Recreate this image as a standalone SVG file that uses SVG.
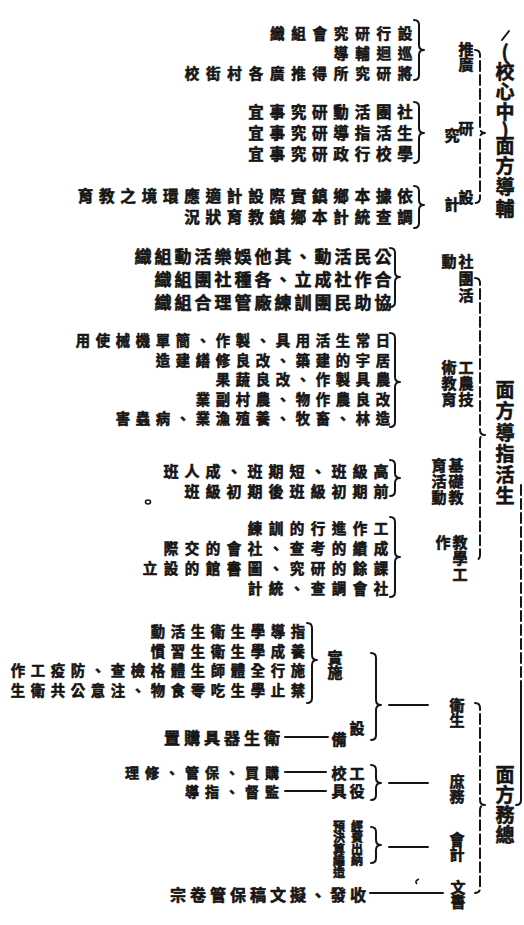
<svg xmlns="http://www.w3.org/2000/svg" width="524" height="925" viewBox="0 0 524 925">
<style>
text{font-family:"Noto Sans CJK TC","Noto Sans CJK SC",sans-serif;font-weight:700;fill:#151515;stroke:#151515;stroke-width:0.6;dominant-baseline:central}
.h{font-size:19px;text-anchor:middle}
.l{font-size:15px;text-anchor:middle}
.m{font-size:12px;text-anchor:middle}
.s1a{font-size:14.5px;letter-spacing:6.8px}
.s1{font-size:15.5px;letter-spacing:5.8px}
.s2{font-size:17px;letter-spacing:3px}
.s2c{font-size:14.3px;letter-spacing:5.7px}
.s2b{font-size:15px;letter-spacing:6px}
.s2d{font-size:14.5px;letter-spacing:6.5px}
.s3{font-size:14.3px;letter-spacing:5.7px}
.s3b{font-size:14px;letter-spacing:6px}
.s3c{font-size:16px;letter-spacing:4px}
.b{fill:none;stroke:#151515;stroke-width:2;stroke-linecap:round;stroke-linejoin:round}
.d{stroke-dasharray:10 4}
.k{fill:none;stroke:#151515;stroke-width:1.6}
</style>
<rect width="524" height="925" fill="#ffffff"/>

<g id="connectors">
<path class="b" d="M509 31 L502 40"/>
<path class="b d" d="M521 485 L521 690"/>
<path class="b" d="M521 690 L521 800 Q521 805 516 805"/>
<path class="b d" d="M475 50 Q480 50 480 55 L480 128 Q480 133 485 133 Q480 133 480 138 L480 198 Q480 203 475 203"/>
<path class="b" d="M414 20 Q419 20 419 25 L419 45 Q419 50 424 50 Q419 50 419 55 L419 75 Q419 80 414 80"/>
<path class="b" d="M414 102 Q419 102 419 107 L419 128 Q419 133 424 133 Q419 133 419 138 L419 158 Q419 163 414 163"/>
<path class="b" d="M414 186 Q419 186 419 191 L419 200 Q419 205 424 205 Q419 205 419 210 L419 223 Q419 228 414 228"/>
<path class="b d" d="M475 278 Q480 278 480 283 L480 430 Q480 435 485 435 Q480 435 480 440 L480 555 Q480 560 475 560"/>
<path class="b" d="M390 248 Q395 248 395 253 L395 272 Q395 277 400 277 Q395 277 395 282 L395 302 Q395 307 390 307"/>
<path class="b" d="M390 333 Q395 333 395 338 L395 377 Q395 382 400 382 Q395 382 395 387 L395 422 Q395 427 390 427"/>
<path class="b" d="M390 460 Q395 460 395 465 L395 473 Q395 478 400 478 Q395 478 395 483 L395 491 Q395 496 390 496"/>
<path class="b" d="M390 517 Q395 517 395 522 L395 552 Q395 557 400 557 Q395 557 395 562 L395 592 Q395 597 390 597"/>
<path class="b d" d="M475 703 Q480 703 480 708 L480 800 Q480 805 485 805 Q480 805 480 810 L480 888 Q480 893 475 893"/>
<path class="b" d="M371 653 Q376 653 376 658 L376 700 Q376 705 381 705 Q376 705 376 710 L376 735 Q376 740 371 740"/>
<path class="b" d="M307 623 Q312 623 312 628 L312 655 Q312 660 317 660 Q312 660 312 665 L312 698 Q312 703 307 703"/>
<path class="b" d="M371 765 Q376 765 376 770 L376 778 Q376 783 381 783 Q376 783 376 788 L376 795 Q376 800 371 800"/>
<path class="b" d="M371 827 Q376 827 376 832 L376 840 Q376 845 381 845 Q376 845 376 850 L376 858 Q376 863 371 863"/>
<path class="b" d="M389 705 L428 705 M389 783 L428 783 M389 847 L428 847 M370 893 L443 893"/>
<path class="b" d="M285 737 L328 737 M285 772 L326 772 M285 791 L326 791"/>
<ellipse class="k" cx="148" cy="502" rx="2.5" ry="2"/>
<path class="k" d="M419 879 Q414 881 417 884"/>
</g>

<g id="heading-fudao">
<text class="h" x="505 505 505 505 505 505 505 505 505" y="50 70 90 110 128 144 164 185 207">(校心中)面方導輔</text>
</g>
<g id="heading-shenghuo">
<text class="h" x="505 505 505 505 505 505" y="388 409 431 452 473 494">面方導指活生</text>
</g>
<g id="heading-zongwu">
<text class="h" x="505 505 505 505" y="773 793 813 833">面方務總</text>
</g>

<g id="node-tuiguang">
<text class="l" x="466 466" y="48 63">推廣</text>
<text class="s1a"><tspan x="269.95" y="32">織組會究研行設</tspan><tspan x="333.85" y="52">導輔迴巡</tspan><tspan x="184.75" y="72">校街村各廣推得所究研將</tspan></text>
</g>
<g id="node-yanjiu">
<text class="l" x="466 452" y="127 134">研究</text>
<text class="s1"><tspan x="248.15" y="111">宜事究研動活團社</tspan><tspan x="248.15" y="132">宜事究研導指活生</tspan><tspan x="248.15" y="153">宜事究研政行校學</tspan></text>
</g>
<g id="node-sheji">
<text class="l" x="466 452" y="196 203">設計</text>
<text class="s1"><tspan x="77.75" y="195">育教之境環應適計設際實鎮鄉本據依</tspan><tspan x="184.25" y="216">況狀育教鎮鄉本計統查調</tspan></text>
</g>

<g id="node-shetuan">
<text class="l" x="466 466 466 449" y="260 277 294 260">社團活動</text>
<text class="s2"><tspan x="134.5" y="255">織組動活樂娛他其、動活民公</tspan><tspan x="154.5" y="278">織組團社種各、立成社作合</tspan><tspan x="154.5" y="301">織組合理管廠練訓團民助協</tspan></text>
</g>
<g id="node-gongnong">
<text class="l" x="466 466 466 449 449 449" y="366 382 398 366 382 398">工農技術教育</text>
<text class="s2c"><tspan x="75.85" y="339">用使械機單簡、作製、具用活生常日</tspan><tspan x="155.85" y="358.5">造建繕修良改、築建的宇居</tspan><tspan x="215.85" y="378">果蔬良改、作製具農</tspan><tspan x="195.85" y="397.5">業副村農、物作農良改</tspan><tspan x="115.85" y="417">害蟲病、業漁殖養、牧畜、林造</tspan></text>
</g>
<g id="node-jichu">
<text class="l" x="456 456 456 439 439 439" y="464 480 496 464 480 496">基礎教育活動</text>
<text class="s2b"><tspan x="163.5" y="469.5">班人成、班期短、班級高</tspan><tspan x="184.5" y="490">班級初期後班級初期前</tspan></text>
</g>
<g id="node-jiaoxue">
<text class="l" x="460 460 460 443" y="541 557 573 541">教學工作</text>
<text class="s2d"><tspan x="247.75" y="527">練訓的行進作工</tspan><tspan x="163.75" y="547">際交的會社、查考的績成</tspan><tspan x="142.75" y="567">立設的館書圖、究研的餘課</tspan><tspan x="247.75" y="587">計統、查調會社</tspan></text>
</g>

<g id="node-weisheng">
<text class="l" x="457 457" y="704 719">衛生</text>
</g>
<g id="node-shishi">
<text class="l" x="335 335" y="656 671">實施</text>
<text class="s3"><tspan x="150.85" y="630">動活生衛生學導指</tspan><tspan x="150.85" y="649.5">慣習生衛生學成養</tspan><tspan x="10.85" y="669">作工疫防、查檢格體生師體全行施</tspan><tspan x="10.85" y="688.5">生衛共公意注、物食零吃生學止禁</tspan></text>
</g>
<g id="node-shebei">
<text class="l" x="357 339" y="727 738">設備</text>
<text class="s3c" x="164" y="737">置購具器生衛</text>
</g>
<g id="node-shuwu">
<text class="l" x="457 457" y="780 795">庶務</text>
<text class="l" x="339 357 339 357" y="772 772 790 790">校工具役</text>
<text class="s3b"><tspan x="125" y="772">理修、管保、買購</tspan><tspan x="185" y="791">導指、督監</tspan></text>
</g>
<g id="node-kuaiji">
<text class="l" x="457 457" y="838 853">會計</text>
<text class="m" x="357 357 357 357 339 339 339 339 339" y="825 836.5 848 859.5 825 836.5 848 859.5 871">經費出納預決算編造</text>
</g>
<g id="node-wenshu">
<text class="l" x="458 458" y="886 900">文書</text>
<text class="s3c" x="170" y="894">宗卷管保稿文擬、發收</text>
</g>
</svg>
